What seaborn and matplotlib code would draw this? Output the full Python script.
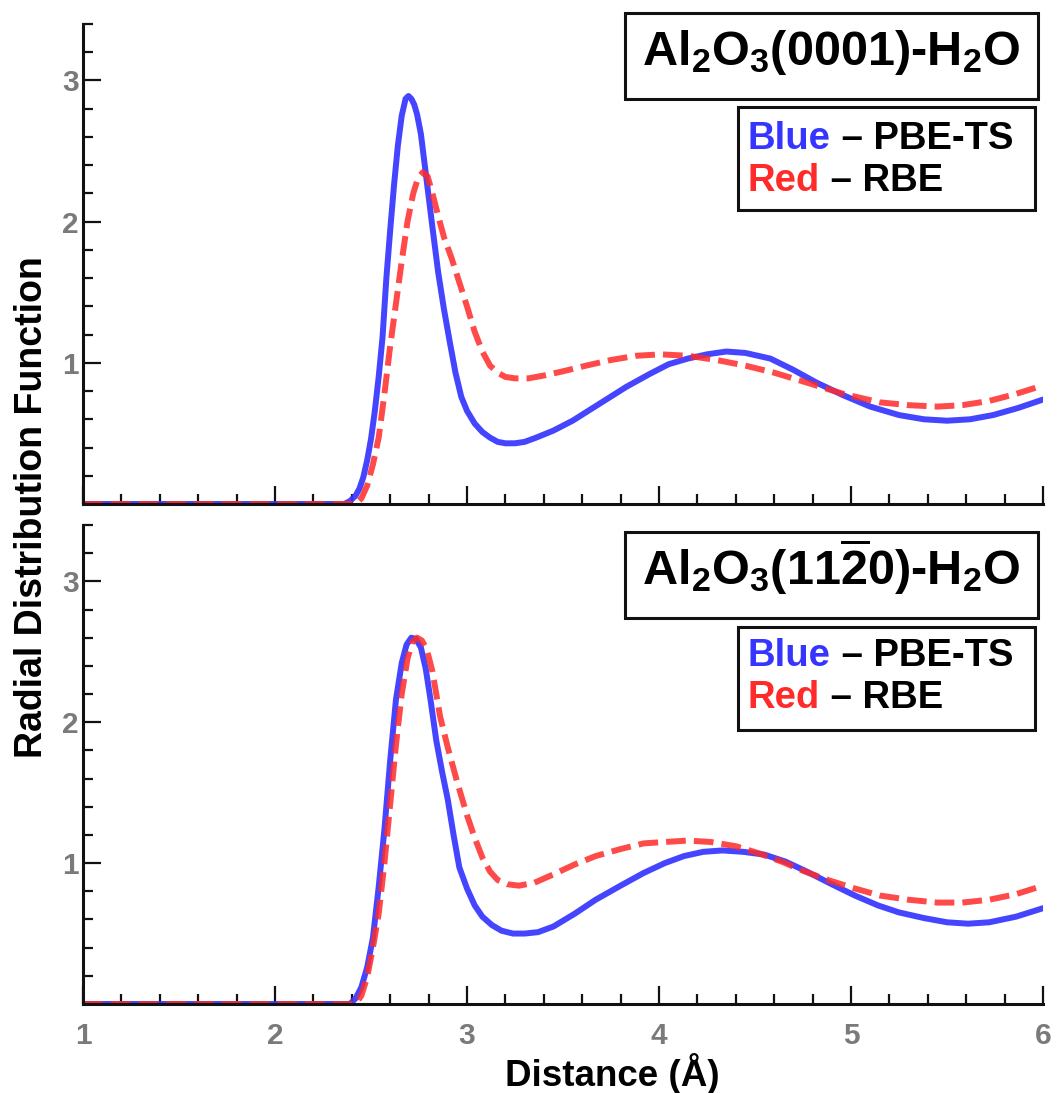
import numpy as np
import pandas as pd
import matplotlib
matplotlib.use("Agg")
import matplotlib.pyplot as plt
import seaborn as sns
from matplotlib.ticker import MultipleLocator
from matplotlib.patches import Rectangle
from matplotlib.text import Annotation

# ---------------- data ----------------
r_top_pbe = [1.00, 2.30, 2.36, 2.39, 2.42, 2.44, 2.46, 2.48, 2.50, 2.52, 2.54, 2.56, 2.58, 2.60, 2.62,
             2.64, 2.66, 2.68, 2.695, 2.71, 2.725, 2.74, 2.76, 2.78, 2.80, 2.82, 2.85, 2.88, 2.91, 2.94,
             2.97, 3.00, 3.04, 3.08, 3.12, 3.16, 3.20, 3.25, 3.30, 3.36, 3.45, 3.55, 3.69, 3.83, 3.95,
             4.05, 4.15, 4.25, 4.35, 4.45, 4.58, 4.70, 4.82, 4.96, 5.10, 5.25, 5.38, 5.50, 5.62, 5.74,
             5.87, 6.00]
g_top_pbe = [0.00, 0.00, 0.00, 0.02, 0.06, 0.11, 0.19, 0.31, 0.46, 0.66, 0.90, 1.18, 1.60, 1.94, 2.26,
             2.54, 2.75, 2.87, 2.89, 2.87, 2.83, 2.76, 2.62, 2.40, 2.18, 1.96, 1.64, 1.38, 1.15, 0.93,
             0.76, 0.66, 0.57, 0.51, 0.47, 0.44, 0.43, 0.43, 0.44, 0.47, 0.52, 0.59, 0.71, 0.83, 0.92,
             0.99, 1.03, 1.06, 1.08, 1.07, 1.03, 0.95, 0.86, 0.77, 0.69, 0.63, 0.60, 0.59, 0.60, 0.63,
             0.68, 0.74]

r_top_rbe = [1.00, 2.36, 2.42, 2.45, 2.48, 2.51, 2.54, 2.57, 2.60, 2.63, 2.66, 2.69, 2.72, 2.745, 2.77,
             2.795, 2.82, 2.85, 2.88, 2.92, 2.96, 3.00, 3.04, 3.08, 3.12, 3.16, 3.20, 3.25, 3.32, 3.40,
             3.50, 3.62, 3.75, 3.88, 4.01, 4.15, 4.30, 4.45, 4.60, 4.77, 4.96, 5.15, 5.30, 5.45, 5.58,
             5.72, 5.86, 6.00]
g_top_rbe = [0.00, 0.00, 0.00, 0.04, 0.13, 0.28, 0.47, 0.78, 1.12, 1.42, 1.72, 2.00, 2.20, 2.31, 2.35,
             2.32, 2.20, 2.04, 1.89, 1.74, 1.57, 1.40, 1.22, 1.08, 0.98, 0.93, 0.90, 0.89, 0.89, 0.91,
             0.94, 0.98, 1.02, 1.05, 1.06, 1.05, 1.02, 0.98, 0.93, 0.86, 0.78, 0.72, 0.70, 0.69, 0.70,
             0.73, 0.78, 0.84]

r_bot_pbe = [1.00, 2.33, 2.39, 2.42, 2.45, 2.48, 2.51, 2.54, 2.57, 2.60, 2.63, 2.66, 2.685, 2.71, 2.735,
             2.76, 2.785, 2.81, 2.84, 2.87, 2.90, 2.93, 2.96, 3.00, 3.04, 3.08, 3.13, 3.18, 3.24, 3.30,
             3.37, 3.45, 3.56, 3.67, 3.80, 3.92, 4.03, 4.13, 4.23, 4.33, 4.44, 4.55, 4.66, 4.77, 4.90,
             5.02, 5.14, 5.25, 5.38, 5.50, 5.61, 5.72, 5.86, 6.00]
g_bot_pbe = [0.00, 0.00, 0.00, 0.04, 0.12, 0.26, 0.47, 0.83, 1.24, 1.73, 2.16, 2.42, 2.55, 2.60, 2.59,
             2.53, 2.38, 2.16, 1.87, 1.65, 1.45, 1.20, 0.97, 0.82, 0.70, 0.62, 0.56, 0.52, 0.50, 0.50,
             0.51, 0.55, 0.64, 0.74, 0.84, 0.93, 1.00, 1.05, 1.08, 1.09, 1.08, 1.06, 1.01, 0.94, 0.85,
             0.77, 0.70, 0.65, 0.61, 0.58, 0.57, 0.58, 0.62, 0.68]

r_bot_rbe = [1.00, 2.36, 2.42, 2.45, 2.48, 2.51, 2.54, 2.57, 2.60, 2.63, 2.66, 2.69, 2.715, 2.74, 2.765,
             2.79, 2.82, 2.86, 2.90, 2.95, 3.00, 3.04, 3.08, 3.12, 3.16, 3.21, 3.27, 3.35, 3.45, 3.56,
             3.67, 3.80, 3.92, 4.03, 4.15, 4.27, 4.40, 4.52, 4.64, 4.76, 4.88, 5.02, 5.15, 5.30, 5.45,
             5.58, 5.72, 5.86, 6.00]
g_bot_rbe = [0.00, 0.00, 0.00, 0.06, 0.19, 0.40, 0.64, 1.00, 1.42, 1.84, 2.20, 2.45, 2.57, 2.60, 2.58,
             2.52, 2.36, 2.04, 1.82, 1.57, 1.34, 1.18, 1.04, 0.94, 0.88, 0.85, 0.84, 0.86, 0.92, 0.99,
             1.05, 1.10, 1.14, 1.15, 1.16, 1.15, 1.12, 1.07, 1.01, 0.94, 0.88, 0.82, 0.77, 0.74, 0.72,
             0.72, 0.74, 0.78, 0.84]

x_ticks = [1, 2, 3, 4, 5, 6]
y_ticks = [1, 2, 3]
titles = [r"Al$_2$O$_3$(0001)-H$_2$O", r"Al$_2$O$_3$(11$\overline{2}$0)-H$_2$O"]
legend_names = ["Blue", "Red"]
legend_methods = [" \u2013 PBE-TS", " \u2013 RBE"]

# ---------------- style ----------------
sns.set_style("ticks")
plt.rcParams['font.family'] = ['Liberation Sans', 'DejaVu Sans']
plt.rcParams['font.weight'] = 'bold'
plt.rcParams['mathtext.fontset'] = 'custom'
plt.rcParams['mathtext.rm'] = 'Liberation Sans:bold'
plt.rcParams['mathtext.it'] = 'Liberation Sans:bold'
plt.rcParams['mathtext.bf'] = 'Liberation Sans:bold'
plt.rcParams['mathtext.default'] = 'rm'

BLUE = '#3535ff'
RED = '#ff2a2a'
TICKGREY = '#7a7a7a'

W, H = 1059, 1093
fig = plt.figure(figsize=(W / 100, H / 100), dpi=100)


def fx(px):
    return px / W


def fy(py):
    return 1 - py / H


ax_top = fig.add_axes([fx(83), fy(504), fx(1043) - fx(83), fy(24) - fy(504)])
ax_bot = fig.add_axes([fx(83), fy(1004), fx(1043) - fx(83), fy(525) - fy(1004)])

panels = [
    (ax_top, r_top_pbe, g_top_pbe, r_top_rbe, g_top_rbe),
    (ax_bot, r_bot_pbe, g_bot_pbe, r_bot_rbe, g_bot_rbe),
]

for ax, rp, gp, rr, gr in panels:
    sns.lineplot(x=rp, y=gp, ax=ax, color=BLUE, lw=4.3, alpha=0.92,
                 estimator=None, sort=False)
    ax.lines[-1].set_solid_joinstyle('round')
    sns.lineplot(x=rr, y=gr, ax=ax, color=RED, lw=4.3, alpha=0.85,
                 estimator=None, sort=False)
    ax.lines[-1].set_dashes([3.3, 1.35])
    ax.lines[-1].set_dash_joinstyle('round')
    ax.set_xlim(1, 6)
    ax.set_ylim(0, 3.4)
    ax.set_xticks(x_ticks)
    ax.set_yticks(y_ticks)
    ax.xaxis.set_minor_locator(MultipleLocator(0.2))
    ax.yaxis.set_minor_locator(MultipleLocator(0.2))
    ax.tick_params(axis='both', which='major', direction='in', length=13, width=1.6,
                   color='#111111', labelsize=21.5, labelcolor=TICKGREY)
    ax.tick_params(axis='both', which='minor', direction='in', length=7.5, width=1.6,
                   color='#111111')
    ax.tick_params(axis='x', which='major', pad=13)
    ax.tick_params(axis='y', which='major', pad=3)
    for lab in ax.get_xticklabels() + ax.get_yticklabels():
        lab.set_fontweight('bold')
    sns.despine(ax=ax)
    for s in ['left', 'bottom']:
        ax.spines[s].set_linewidth(2.2)
        ax.spines[s].set_color('#111111')
    ax.set_xlabel('')
    ax.set_ylabel('')
    ax.patch.set_alpha(0)

ax_top.tick_params(axis='x', labelbottom=False)

# axis labels
fig.text(fx(32), fy(507), "Radial Distribution Function", rotation=90,
         ha='center', va='center', fontsize=27, fontweight='bold', color='black')
fig.text(fx(612), fy(1086), "Distance (\u00c5)", ha='center', va='baseline',
         fontsize=26.5, fontweight='bold', color='black')

# title boxes and legends
title_boxes = [(625, 13, 1038, 99), (625, 532, 1038, 618)]
title_base = [65, 585]
leg_boxes = [(738, 107, 1035, 210), (738, 627, 1035, 730)]
leg_base = [(149, 191), (666, 708)]
colors_leg = [BLUE, RED]

for i in range(2):
    x0, y0, x1, y1 = title_boxes[i]
    fig.add_artist(Rectangle((fx(x0), fy(y1)), fx(x1) - fx(x0), fy(y0) - fy(y1),
                             transform=fig.transFigure, fill=True, fc='white',
                             ec='#111111', lw=2.2, zorder=5))
    fig.text(fx((x0 + x1) / 2), fy(title_base[i]), titles[i], ha='center', va='baseline',
             fontsize=35, fontweight='bold', color='black', zorder=6)
    x0, y0, x1, y1 = leg_boxes[i]
    fig.add_artist(Rectangle((fx(x0), fy(y1)), fx(x1) - fx(x0), fy(y0) - fy(y1),
                             transform=fig.transFigure, fill=True, fc='white',
                             ec='#111111', lw=2.2, zorder=5))
    for j in range(2):
        t = fig.text(fx(748), fy(leg_base[i][j]), legend_names[j], ha='left', va='baseline',
                     fontsize=27.5, fontweight='bold', color=colors_leg[j], zorder=6)
        ann = Annotation(legend_methods[j], xy=(1, 0), xycoords=t,
                         ha='left', va='bottom', fontsize=27.5, fontweight='bold',
                         color='black', annotation_clip=False)
        ann.set_zorder(6)
        fig.add_artist(ann)

fig.savefig("out.png", dpi=100)
